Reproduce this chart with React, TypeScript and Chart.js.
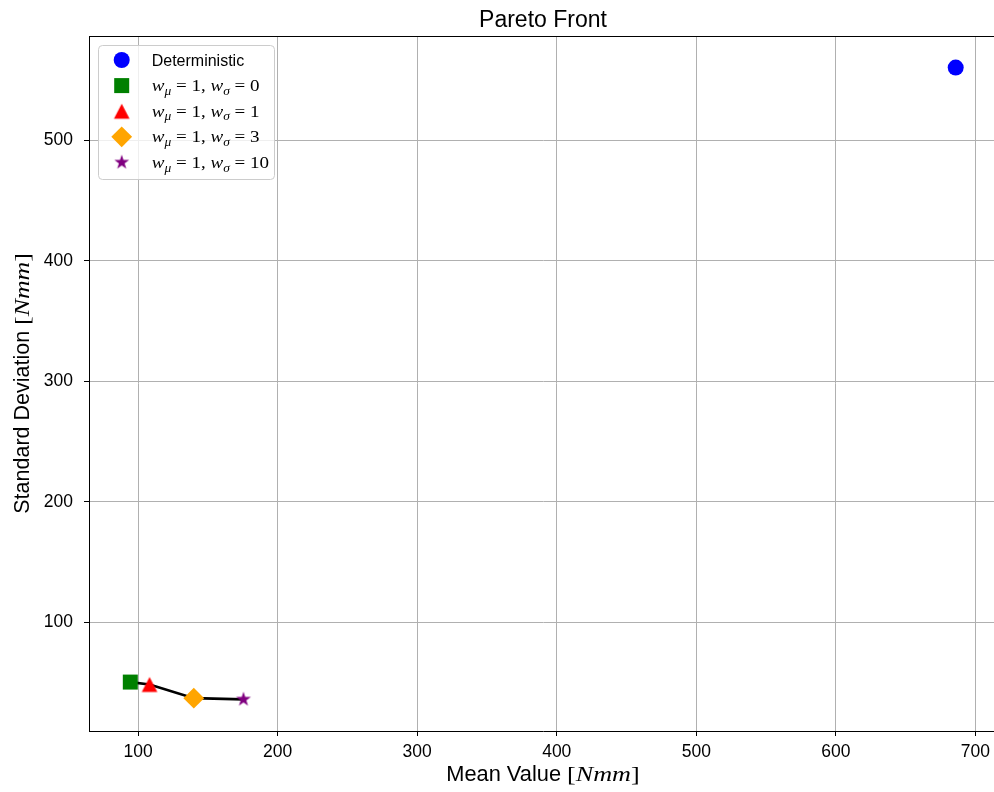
import React, { useEffect, useRef } from 'react';
import { Chart, registerables } from 'chart.js';

Chart.register(...registerables);

// ---- data ----
const seriesKeys = ['deterministic', 'w0', 'w1', 'w3', 'w10'];
const weightMu = [null, 1, 1, 1, 1];
const weightSigma = [null, 0, 1, 3, 10];
const meanValues = [685.9, 94.4, 108.2, 139.9, 175.5];
const stdValues = [560.7, 50.1, 48.1, 36.7, 35.7];
const frontIndices = [1, 2, 3, 4];
const xTicks = [100, 200, 300, 400, 500, 600, 700];
const yTicks = [100, 200, 300, 400, 500];
const xRange = [64.8, 715.5];
const yRange = [9.45, 586.95];

const titleText = 'Pareto Front';
const xLabelText = 'Mean Value ';
const yLabelText = 'Standard Deviation ';
const unitText = 'Nmm';

const markerColors = ['#0000ff', '#008000', '#ff0000', '#ffa500', '#800080'];

const SANS = '"Liberation Sans", Arial, Helvetica, sans-serif';
const SERIF = '"Liberation Serif", "Times New Roman", serif';

function makeTriangle(color: string, w: number, h: number): HTMLCanvasElement {
  const c = document.createElement('canvas');
  const size = Math.ceil(Math.max(w, h)) + 2;
  c.width = size;
  c.height = size;
  const ctx = c.getContext('2d')!;
  const cx = size / 2;
  const cy = size / 2;
  ctx.fillStyle = color;
  ctx.beginPath();
  ctx.moveTo(cx, cy - h / 2);
  ctx.lineTo(cx + w / 2, cy + h / 2);
  ctx.lineTo(cx - w / 2, cy + h / 2);
  ctx.closePath();
  ctx.fill();
  return c;
}

function makeStar(color: string, R: number): HTMLCanvasElement {
  const c = document.createElement('canvas');
  const size = Math.ceil(2 * R) + 2;
  c.width = size;
  c.height = size;
  const ctx = c.getContext('2d')!;
  const cx = size / 2;
  const cy = size / 2;
  const r = R * 0.381966;
  ctx.fillStyle = color;
  ctx.beginPath();
  for (let k = 0; k < 10; k++) {
    const rad = (k * Math.PI) / 5;
    const rr = k % 2 === 0 ? R : r;
    const px = cx + rr * Math.sin(rad);
    const py = cy - rr * Math.cos(rad);
    if (k === 0) ctx.moveTo(px, py);
    else ctx.lineTo(px, py);
  }
  ctx.closePath();
  ctx.fill();
  return c;
}

type Seg = { t: string; font: string; dy?: number; sx?: number };

function segWidth(ctx: CanvasRenderingContext2D, s: Seg) {
  ctx.font = s.font;
  return ctx.measureText(s.t).width * (s.sx || 1);
}

function drawRich(ctx: CanvasRenderingContext2D, segs: Seg[], x: number, y: number, align: 'left' | 'center') {
  let total = 0;
  for (const s of segs) total += segWidth(ctx, s);
  let cx = align === 'center' ? x - total / 2 : x;
  ctx.textAlign = 'left';
  ctx.textBaseline = 'alphabetic';
  for (const s of segs) {
    const w = segWidth(ctx, s);
    ctx.save();
    ctx.font = s.font;
    ctx.translate(cx, y + (s.dy || 0));
    ctx.scale(s.sx || 1, 1);
    ctx.fillText(s.t, 0, 0);
    ctx.restore();
    cx += w;
  }
}

function mathLabel(mu: number, sigma: number, sz: number): Seg[] {
  const it = `italic ${sz}px ${SERIF}`;
  const sub = `italic ${Math.round(sz * 0.72)}px ${SERIF}`;
  const up = `${sz}px ${SERIF}`;
  const sx = 1.12;
  return [
    { t: 'w', font: it, sx },
    { t: 'μ', font: sub, dy: sz * 0.22, sx },
    { t: ` = ${mu}, `, font: up, sx },
    { t: 'w', font: it, sx },
    { t: 'σ', font: sub, dy: sz * 0.22, sx },
    { t: ` = ${sigma}`, font: up, sx },
  ];
}

function unitSegs(label: string, sz: number): Seg[] {
  const sx = 1.2;
  return [
    { t: label, font: `${sz}px ${SANS}` },
    { t: '[', font: `${sz}px ${SERIF}`, sx },
    { t: unitText, font: `italic ${sz}px ${SERIF}`, sx },
    { t: ']', font: `${sz}px ${SERIF}`, sx },
  ];
}

export default function App() {
  const ref = useRef<HTMLCanvasElement | null>(null);

  useEffect(() => {
    const canvas = ref.current;
    if (!canvas) return;

    const triImg = makeTriangle(markerColors[2], 15.6, 15);
    const starImg = makeStar(markerColors[4], 7.8);
    const styles: any[] = ['circle', 'rect', triImg, 'rectRot', starImg];
    const radii = [8, 10.6, 8, 10.4, 8];

    const pointSets = seriesKeys.map((key, i) => ({
      label: key,
      data: [{ x: meanValues[i], y: stdValues[i] }],
      pointStyle: styles[i],
      pointRadius: radii[i],
      pointBackgroundColor: markerColors[i],
      pointBorderWidth: 0,
      borderWidth: 0,
      showLine: false,
      order: 1,
    }));

    const lineSet = {
      label: 'front',
      data: frontIndices.map((i) => ({ x: meanValues[i], y: stdValues[i] })),
      borderColor: '#000000',
      borderWidth: 2.7,
      pointRadius: 0,
      showLine: true,
      fill: false,
      order: 10,
    };

    const decor = {
      id: 'decor',
      afterDraw(chart: any) {
        const ctx: CanvasRenderingContext2D = chart.ctx;
        const a = chart.chartArea;
        ctx.save();
        // top & right spines
        ctx.strokeStyle = '#000';
        ctx.lineWidth = 1;
        ctx.beginPath();
        ctx.moveTo(a.left, a.top + 0.5);
        ctx.lineTo(a.right, a.top + 0.5);
        ctx.moveTo(a.right - 0.5, a.top);
        ctx.lineTo(a.right - 0.5, a.bottom);
        ctx.stroke();

        ctx.fillStyle = '#000';
        const midX = (a.left + a.right) / 2;
        // title
        drawRich(ctx, [{ t: titleText, font: `23px ${SANS}` }], midX, 27, 'center');
        // x label
        drawRich(ctx, unitSegs(xLabelText, 21.8), midX, 781, 'center');
        // y label
        ctx.save();
        ctx.translate(29, (a.top + a.bottom) / 2);
        ctx.rotate(-Math.PI / 2);
        drawRich(ctx, unitSegs(yLabelText, 21.5), 0, 0, 'center');
        ctx.restore();

        // legend
        const lx = 98, ly = 45, lw = 176, lh = 134;
        ctx.beginPath();
        (ctx as any).roundRect(lx + 0.5, ly + 0.5, lw, lh, 4);
        ctx.fillStyle = 'rgba(255,255,255,0.8)';
        ctx.fill();
        ctx.strokeStyle = '#cccccc';
        ctx.lineWidth = 1;
        ctx.stroke();

        const mx = 121.7;
        const tx = 151.7;
        for (let i = 0; i < seriesKeys.length; i++) {
          const cy = 60 + i * 25.6;
          ctx.fillStyle = markerColors[i];
          const st = styles[i];
          if (st === 'circle') {
            ctx.beginPath();
            ctx.arc(mx, cy, 8, 0, Math.PI * 2);
            ctx.fill();
          } else if (st === 'rect') {
            ctx.fillRect(mx - 7.5, cy - 7.5, 15, 15);
          } else if (st === 'rectRot') {
            ctx.beginPath();
            ctx.moveTo(mx - 10.4, cy);
            ctx.lineTo(mx, cy - 10.4);
            ctx.lineTo(mx + 10.4, cy);
            ctx.lineTo(mx, cy + 10.4);
            ctx.closePath();
            ctx.fill();
          } else {
            ctx.drawImage(st, mx - st.width / 2, cy - st.height / 2);
          }
          ctx.fillStyle = '#000';
          const mu = weightMu[i];
          const sg = weightSigma[i];
          if (mu === null || sg === null) {
            drawRich(ctx, [{ t: 'Deterministic', font: `16px ${SANS}` }], tx, cy + 5.5, 'left');
          } else {
            drawRich(ctx, mathLabel(mu, sg, 17), tx, cy + 5.5, 'left');
          }
        }
        ctx.restore();
      },
    };

    const tickFont = { family: SANS, size: 17.5 };
    const noPad = (s: any) => {
      s.paddingLeft = 0;
      s.paddingRight = 0;
      s.paddingTop = 0;
      s.paddingBottom = 0;
    };

    const chart = new Chart(canvas, {
      type: 'scatter',
      data: { datasets: [...pointSets, lineSet] as any },
      options: {
        responsive: false,
        devicePixelRatio: 1,
        animation: false,
        layout: { autoPadding: false, padding: { top: 36, right: 1, left: 0, bottom: 0 } },
        plugins: {
          legend: { display: false },
          tooltip: { enabled: false },
          title: { display: false },
        },
        scales: {
          x: {
            type: 'linear',
            min: xRange[0],
            max: xRange[1],
            afterBuildTicks: (s: any) => {
              s.ticks = xTicks.map((v) => ({ value: v }));
            },
            afterFit: (s: any) => {
              s.height = 61;
              noPad(s);
            },
            grid: { color: '#b0b0b0', lineWidth: 1, tickColor: '#000', tickLength: 5, drawTicks: true },
            border: { color: '#000', width: 1 },
            ticks: { font: tickFont, color: '#000', padding: 6, maxRotation: 0, autoSkip: false },
          },
          y: {
            type: 'linear',
            min: yRange[0],
            max: yRange[1],
            afterBuildTicks: (s: any) => {
              s.ticks = yTicks.map((v) => ({ value: v }));
            },
            afterFit: (s: any) => {
              s.width = 89;
              noPad(s);
            },
            grid: { color: '#b0b0b0', lineWidth: 1, tickColor: '#000', tickLength: 5, drawTicks: true },
            border: { color: '#000', width: 1 },
            ticks: { font: tickFont, color: '#000', padding: 11, autoSkip: false },
          },
        },
      },
      plugins: [decor],
    });

    return () => {
      chart.destroy();
    };
  }, []);

  return (
    <div style={{ position: 'fixed', left: 0, top: 0, width: 994, height: 792, overflow: 'hidden', background: '#fff' }}>
      <canvas ref={ref} width={998} height={792} style={{ display: 'block' }} />
    </div>
  );
}
